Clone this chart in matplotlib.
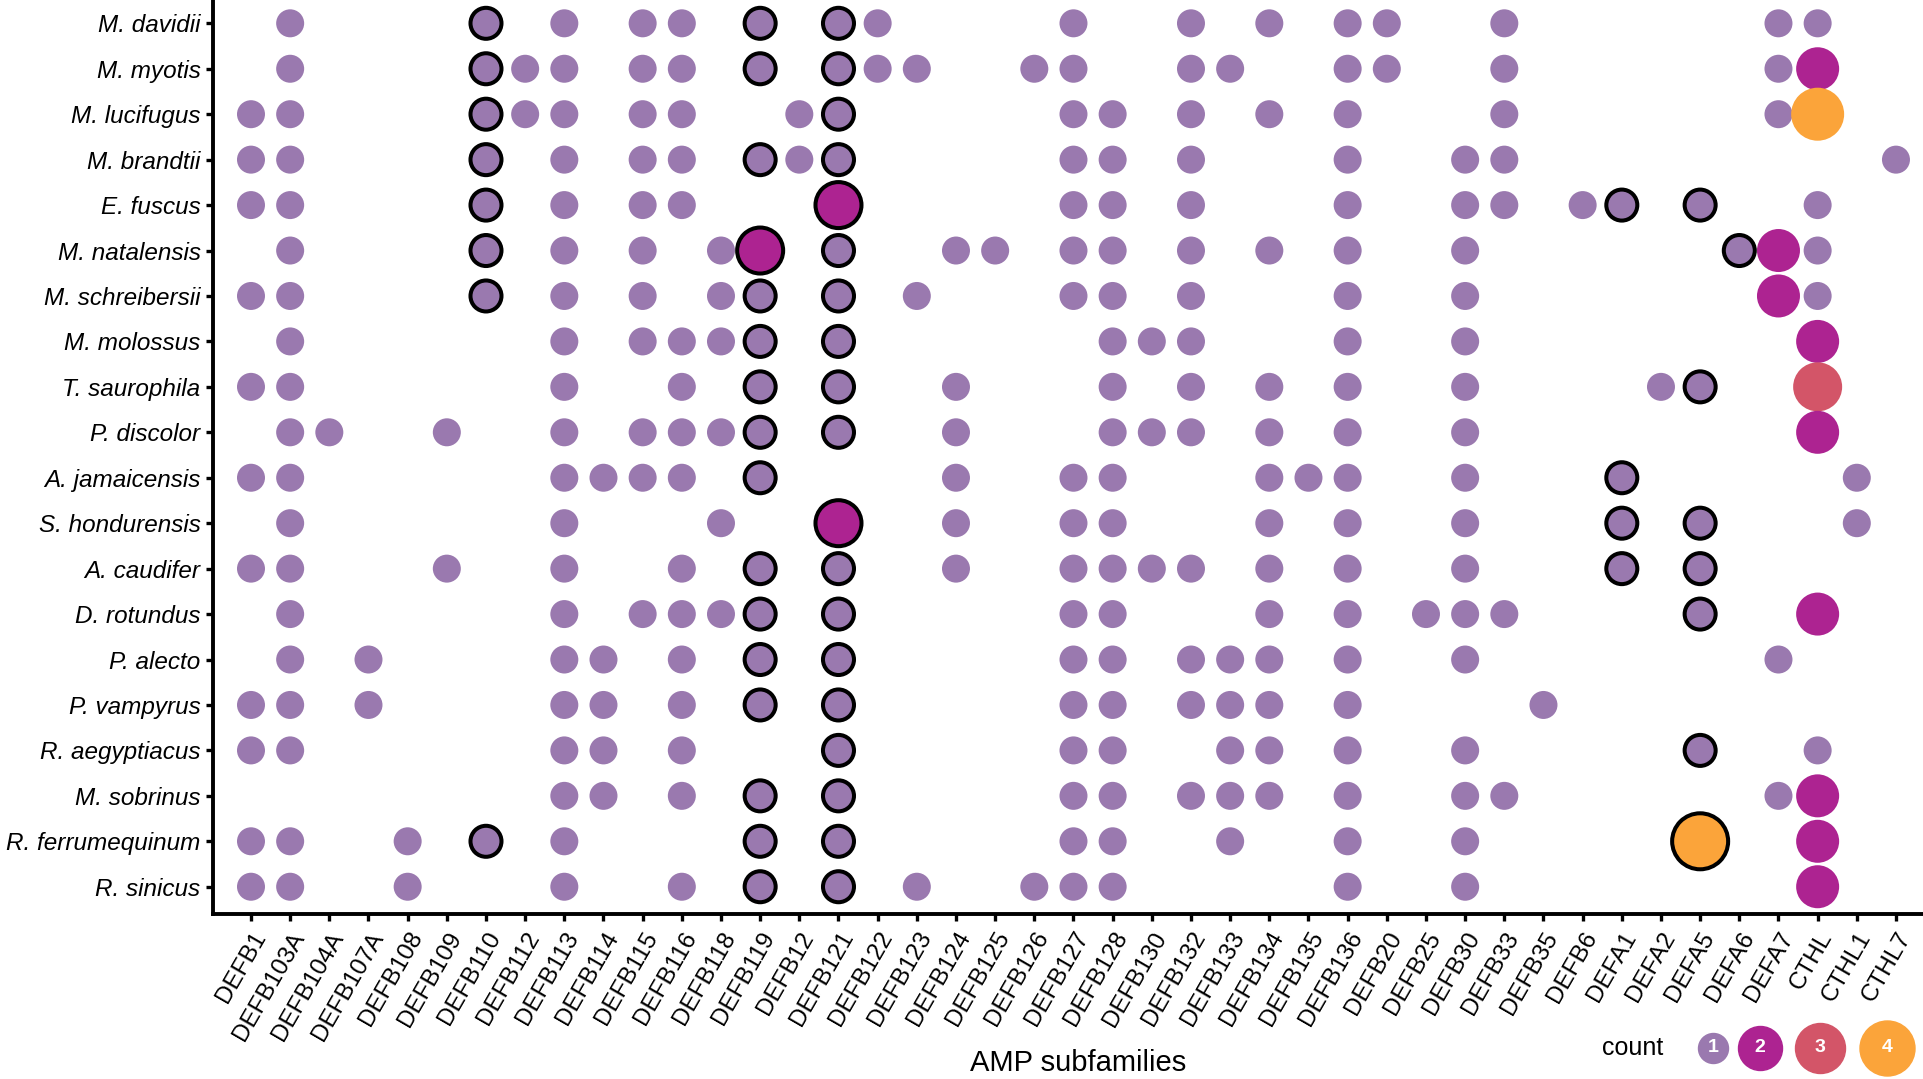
import matplotlib
matplotlib.use("Agg")
import matplotlib.pyplot as plt
import numpy as np

plt.rcParams['font.family'] = ['Liberation Sans', 'DejaVu Sans']

species = ["M. davidii", "M. myotis", "M. lucifugus", "M. brandtii", "E. fuscus",
           "M. natalensis", "M. schreibersii", "M. molossus", "T. saurophila",
           "P. discolor", "A. jamaicensis", "S. hondurensis", "A. caudifer",
           "D. rotundus", "P. alecto", "P. vampyrus", "R. aegyptiacus",
           "M. sobrinus", "R. ferrumequinum", "R. sinicus"]

subfamilies = ["DEFB1", "DEFB103A", "DEFB104A", "DEFB107A", "DEFB108", "DEFB109",
               "DEFB110", "DEFB112", "DEFB113", "DEFB114", "DEFB115", "DEFB116",
               "DEFB118", "DEFB119", "DEFB12", "DEFB121", "DEFB122", "DEFB123",
               "DEFB124", "DEFB125", "DEFB126", "DEFB127", "DEFB128", "DEFB130",
               "DEFB132", "DEFB133", "DEFB134", "DEFB135", "DEFB136", "DEFB20",
               "DEFB25", "DEFB30", "DEFB33", "DEFB35", "DEFB6", "DEFA1", "DEFA2",
               "DEFA5", "DEFA6", "DEFA7", "CTHL", "CTHL1", "CTHL7"]

# subfamilies found in each species (one copy unless listed in multi_copy)
genes_found = [
    "DEFB103A DEFB110 DEFB113 DEFB115 DEFB116 DEFB119 DEFB121 DEFB122 DEFB127 DEFB132 DEFB134 DEFB136 DEFB20 DEFB33 DEFA7 CTHL",
    "DEFB103A DEFB110 DEFB112 DEFB113 DEFB115 DEFB116 DEFB119 DEFB121 DEFB122 DEFB123 DEFB126 DEFB127 DEFB132 DEFB133 DEFB136 DEFB20 DEFB33 DEFA7 CTHL",
    "DEFB1 DEFB103A DEFB110 DEFB112 DEFB113 DEFB115 DEFB116 DEFB12 DEFB121 DEFB127 DEFB128 DEFB132 DEFB134 DEFB136 DEFB33 DEFA7 CTHL",
    "DEFB1 DEFB103A DEFB110 DEFB113 DEFB115 DEFB116 DEFB119 DEFB12 DEFB121 DEFB127 DEFB128 DEFB132 DEFB136 DEFB30 DEFB33 CTHL7",
    "DEFB1 DEFB103A DEFB110 DEFB113 DEFB115 DEFB116 DEFB121 DEFB127 DEFB128 DEFB132 DEFB136 DEFB30 DEFB33 DEFB6 DEFA1 DEFA5 CTHL",
    "DEFB103A DEFB110 DEFB113 DEFB115 DEFB118 DEFB119 DEFB121 DEFB124 DEFB125 DEFB127 DEFB128 DEFB132 DEFB134 DEFB136 DEFB30 DEFA6 DEFA7 CTHL",
    "DEFB1 DEFB103A DEFB110 DEFB113 DEFB115 DEFB118 DEFB119 DEFB121 DEFB123 DEFB127 DEFB128 DEFB132 DEFB136 DEFB30 DEFA7 CTHL",
    "DEFB103A DEFB113 DEFB115 DEFB116 DEFB118 DEFB119 DEFB121 DEFB128 DEFB130 DEFB132 DEFB136 DEFB30 CTHL",
    "DEFB1 DEFB103A DEFB113 DEFB116 DEFB119 DEFB121 DEFB124 DEFB128 DEFB132 DEFB134 DEFB136 DEFB30 DEFA2 DEFA5 CTHL",
    "DEFB103A DEFB104A DEFB109 DEFB113 DEFB115 DEFB116 DEFB118 DEFB119 DEFB121 DEFB124 DEFB128 DEFB130 DEFB132 DEFB134 DEFB136 DEFB30 CTHL",
    "DEFB1 DEFB103A DEFB113 DEFB114 DEFB115 DEFB116 DEFB119 DEFB124 DEFB127 DEFB128 DEFB134 DEFB135 DEFB136 DEFB30 DEFA1 CTHL1",
    "DEFB103A DEFB113 DEFB118 DEFB121 DEFB124 DEFB127 DEFB128 DEFB134 DEFB136 DEFB30 DEFA1 DEFA5 CTHL1",
    "DEFB1 DEFB103A DEFB109 DEFB113 DEFB116 DEFB119 DEFB121 DEFB124 DEFB127 DEFB128 DEFB130 DEFB132 DEFB134 DEFB136 DEFB30 DEFA1 DEFA5",
    "DEFB103A DEFB113 DEFB115 DEFB116 DEFB118 DEFB119 DEFB121 DEFB127 DEFB128 DEFB134 DEFB136 DEFB25 DEFB30 DEFB33 DEFA5 CTHL",
    "DEFB103A DEFB107A DEFB113 DEFB114 DEFB116 DEFB119 DEFB121 DEFB127 DEFB128 DEFB132 DEFB133 DEFB134 DEFB136 DEFB30 DEFA7",
    "DEFB1 DEFB103A DEFB107A DEFB113 DEFB114 DEFB116 DEFB119 DEFB121 DEFB127 DEFB128 DEFB132 DEFB133 DEFB134 DEFB136 DEFB35",
    "DEFB1 DEFB103A DEFB113 DEFB114 DEFB116 DEFB121 DEFB127 DEFB128 DEFB133 DEFB134 DEFB136 DEFB30 DEFA5 CTHL",
    "DEFB113 DEFB114 DEFB116 DEFB119 DEFB121 DEFB127 DEFB128 DEFB132 DEFB133 DEFB134 DEFB136 DEFB30 DEFB33 DEFA7 CTHL",
    "DEFB1 DEFB103A DEFB108 DEFB110 DEFB113 DEFB119 DEFB121 DEFB127 DEFB128 DEFB133 DEFB136 DEFB30 DEFA5 CTHL",
    "DEFB1 DEFB103A DEFB108 DEFB113 DEFB116 DEFB119 DEFB121 DEFB123 DEFB126 DEFB127 DEFB128 DEFB136 DEFB30 CTHL",
]

# copies > 1
multi_copy = [
    ("M. myotis", "CTHL", 2),
    ("M. lucifugus", "CTHL", 4),
    ("E. fuscus", "DEFB121", 2),
    ("M. natalensis", "DEFB119", 2),
    ("M. natalensis", "DEFA7", 2),
    ("M. schreibersii", "DEFA7", 2),
    ("M. molossus", "CTHL", 2),
    ("T. saurophila", "CTHL", 3),
    ("P. discolor", "CTHL", 2),
    ("S. hondurensis", "DEFB121", 2),
    ("D. rotundus", "CTHL", 2),
    ("M. sobrinus", "CTHL", 2),
    ("R. ferrumequinum", "DEFA5", 4),
    ("R. ferrumequinum", "CTHL", 2),
    ("R. sinicus", "CTHL", 2),
]

# black-outlined subfamilies per species
outlined = [
    "DEFB110 DEFB119 DEFB121",
    "DEFB110 DEFB119 DEFB121",
    "DEFB110 DEFB121",
    "DEFB110 DEFB119 DEFB121",
    "DEFB110 DEFB121 DEFA1 DEFA5",
    "DEFB110 DEFB119 DEFB121 DEFA6",
    "DEFB110 DEFB119 DEFB121",
    "DEFB119 DEFB121",
    "DEFB119 DEFB121 DEFA5",
    "DEFB119 DEFB121",
    "DEFB119 DEFA1",
    "DEFB121 DEFA1 DEFA5",
    "DEFB119 DEFB121 DEFA1 DEFA5",
    "DEFB119 DEFB121 DEFA5",
    "DEFB119 DEFB121",
    "DEFB119 DEFB121",
    "DEFB121 DEFA5",
    "DEFB119 DEFB121",
    "DEFB110 DEFB119 DEFB121 DEFA5",
    "DEFB119 DEFB121",
]

count_levels = [1, 2, 3, 4]
count_colors = ["#9A79AF", "#AD2391", "#D35568", "#FBA43A"]
dot_px = [28, 43, 49, 53]          # dot diameters in pixels

DPI = 100
px2pt = 72.0 / DPI

# build point table
xs, ys, cnts, outl = [], [], [], []
extra = {(s, g): c for s, g, c in multi_copy}
for i, sp in enumerate(species):
    ring = outlined[i].split()
    for g in genes_found[i].split():
        xs.append(subfamilies.index(g))
        ys.append(i)
        cnts.append(extra.get((sp, g), 1))
        outl.append(g in ring)
xs = np.array(xs); ys = np.array(ys); cnts = np.array(cnts); outl = np.array(outl)

sizes, cols, ecols, lws = [], [], [], []
for c, o in zip(cnts, outl):
    d = dot_px[c - 1] + (3 if o else 0)
    sizes.append((d * px2pt) ** 2)
    cols.append(count_colors[c - 1])
    ecols.append("black" if o else "none")
    lws.append(2.9 if o else 0.0)

fig = plt.figure(figsize=(19.23, 10.79), dpi=DPI)
ax = fig.add_axes([213 / 1923, 1 - 914 / 1079, 1 - 213 / 1923, 914 / 1079])

ax.scatter(xs, ys, s=sizes, c=cols, edgecolors=ecols, linewidths=lws,
           clip_on=False, zorder=3)

ax.set_xlim(-0.97, 42.69)
ax.set_ylim(19.6, -0.513)

ax.set_xticks(range(len(subfamilies)))
ax.set_xticklabels(subfamilies, rotation=60, ha='right', va='top',
                   rotation_mode='anchor', fontsize=17.5)
ax.set_yticks(range(len(species)))
ax.set_yticklabels(species, fontsize=17.5, fontstyle='italic')

for side in ['top', 'right']:
    ax.spines[side].set_visible(False)
for side in ['left', 'bottom']:
    ax.spines[side].set_linewidth(2.8)
ax.tick_params(axis='both', length=5, width=2.4, color='black')
ax.tick_params(axis='x', pad=5)
ax.tick_params(axis='y', pad=4)

fig.text(1078 / 1923, 1 - 1071 / 1079, "AMP subfamilies", ha='center', va='baseline',
         fontsize=21)

# legend
leg_y = 1 - 1048 / 1079
leg_x = [1713, 1760, 1820, 1887]
fig.text(1633 / 1923, leg_y, "count", ha='center', va='center', fontsize=18)
for lv, xp, col, d in zip(count_levels, leg_x, count_colors, [30, 44, 50, 55]):
    ax.scatter([xp / 1923], [leg_y], s=(d * px2pt) ** 2, color=col,
               transform=fig.transFigure, clip_on=False, zorder=5)
    fig.text(xp / 1923, leg_y, str(lv), ha='center', va='center', color='white',
             fontsize=14, fontweight='bold', zorder=6)

fig.savefig("out.png", dpi=DPI)
